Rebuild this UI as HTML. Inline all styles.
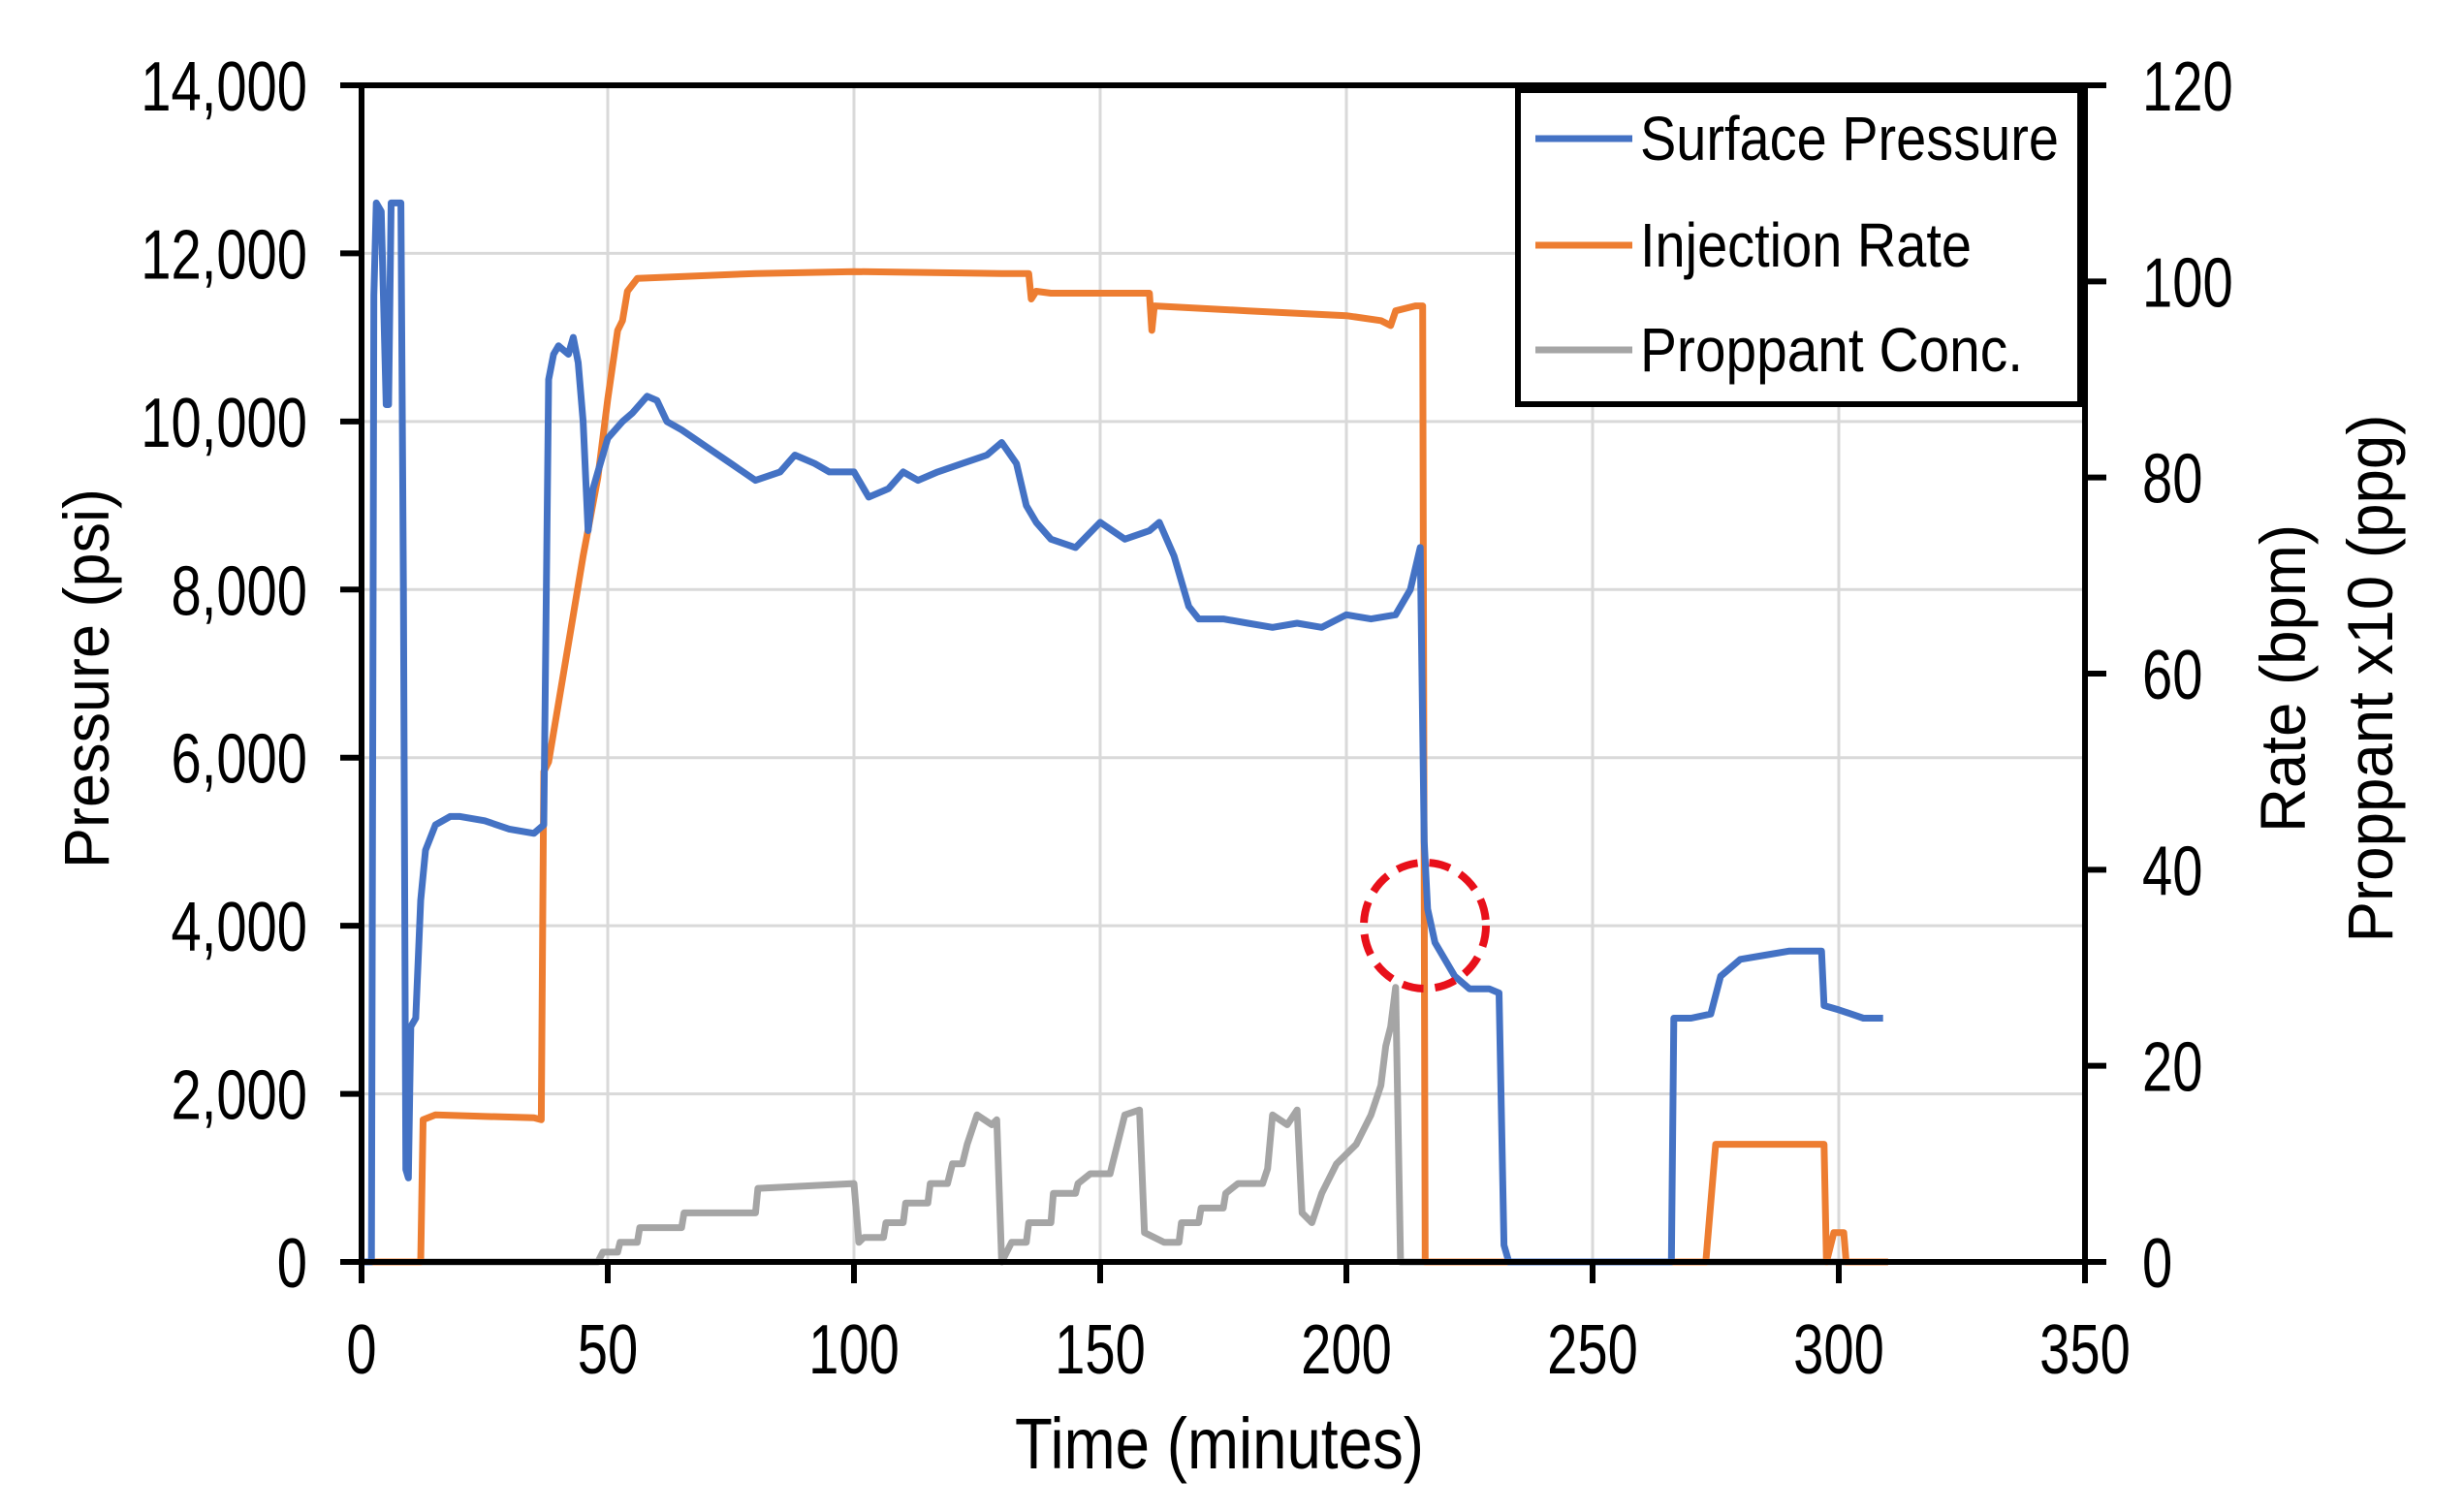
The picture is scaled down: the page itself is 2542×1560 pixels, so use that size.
<!DOCTYPE html>
<html><head><meta charset="utf-8"><style>
html,body{margin:0;padding:0;background:#fff;}
svg{display:block;font-family:"Liberation Sans",Arial,sans-serif;}
</style></head><body>
<svg id="chart" width="2542" height="1560" viewBox="0 0 2542 1560" xmlns="http://www.w3.org/2000/svg">
<g id="grid"></g>
<g id="series"></g>
<g id="axes"></g>
<g id="labels"></g>
<ellipse cx="1470" cy="955" rx="63" ry="65" fill="none" stroke="#e8101a" stroke-width="8" stroke-dasharray="22,12"/>
<g>
<rect x="1566" y="93" width="580" height="324" fill="#fff" stroke="#000" stroke-width="6"/>
<line x1="1584" y1="143" x2="1684" y2="143" stroke="#4472C4" stroke-width="7"/>
<text x="1692" y="165" font-size="64" textLength="432" lengthAdjust="spacingAndGlyphs">Surface Pressure</text>
<line x1="1584" y1="253" x2="1684" y2="253" stroke="#ED7D31" stroke-width="7"/>
<text x="1692" y="275" font-size="64" textLength="342" lengthAdjust="spacingAndGlyphs">Injection Rate</text>
<line x1="1584" y1="361" x2="1684" y2="361" stroke="#A5A5A5" stroke-width="7"/>
<text x="1692" y="383" font-size="64" textLength="395" lengthAdjust="spacingAndGlyphs">Proppant Conc.</text>
</g>
<text x="1258" y="1515" font-size="74" text-anchor="middle" textLength="422" lengthAdjust="spacingAndGlyphs">Time (minutes)</text>
<text transform="translate(112,700) rotate(-90)" font-size="66" text-anchor="middle" textLength="392" lengthAdjust="spacingAndGlyphs">Pressure (psi)</text>
<text transform="translate(2378,700) rotate(-90)" font-size="66" text-anchor="middle" textLength="318" lengthAdjust="spacingAndGlyphs">Rate (bpm)</text>
<text transform="translate(2468,700) rotate(-90)" font-size="66" text-anchor="middle" textLength="545" lengthAdjust="spacingAndGlyphs">Proppant x10 (ppg)</text>
</svg>
<script>
const xTicks=[0,50,100,150,200,250,300,350];
const yLeftTicks=[0,2000,4000,6000,8000,10000,12000,14000];
const yRightTicks=[0,20,40,60,80,100,120];
const pressureT=[0,2,2.5,3,4,5,5.5,6,7,8,8.5,9,9.5,10,11,12,13,15,18,20,25,30,35,37,38,39,40,42,43,44,45,46,47,48,50,53,55,58,60,62,65,70,75,80,85,88,92,95,100,103,107,110,113,117,122,127,130,133,135,137,140,145,150,155,160,162,165,168,170,175,180,185,190,195,200,205,210,213,215,215.8,216.5,218,222,225,229,231,232,233,266,266.5,270,274,276,280,285,290,296,296.5,297,300,305,309];
const pressureV=[0,0,11500,12600,12500,10200,10200,12600,12600,12600,8000,1100,1000,2800,2900,4300,4900,5200,5300,5300,5250,5150,5100,5200,10500,10800,10900,10800,11000,10700,10000,8700,9200,9400,9800,10000,10100,10300,10250,10000,9900,9700,9500,9300,9400,9600,9500,9400,9400,9100,9200,9400,9300,9400,9500,9600,9750,9500,9000,8800,8600,8500,8800,8600,8700,8800,8400,7800,7650,7650,7600,7550,7600,7550,7700,7650,7700,8000,8500,5000,4200,3800,3400,3250,3250,3200,200,0,0,2900,2900,2950,3400,3600,3650,3700,3700,3700,3050,3000,2900,2900];
const rateT=[0,12,12.5,15,35,36.5,37,38,40,42,45,48,50,52,53,54,56,80,100,130,135.5,136,137,140,160,160.5,161,180,200,207,209,210,214,215.5,216,273,275,297,297.5,299,301,301.5,310];
const rateV=[0,0,14.5,15,14.7,14.5,50,51,57,63,72,80,88,95,96,99,100.3,100.8,101,100.8,100.8,98.2,99,98.8,98.8,95,97.5,97,96.5,96,95.5,97,97.5,97.5,0,0,12,12,0,3,3,0,0];
const propT=[0,48,49,52,52.5,56,56.5,65,65.5,80,80.5,100,101,102,106,106.5,110,110.5,115,115.5,119,120,122,123,125,128,129,130,132,135,135.5,140,140.5,145,145.5,148,152,152.5,155,158,159,163,166,166.5,170,170.5,175,175.5,178,183,184,185,188,190,191,193,195,198,202,205,207,208,209,210,211,310];
const propV=[0,0,1,1,2,2,3.5,3.5,5,5,7.5,8,2,2.5,2.5,4,4,6,6,8,8,10,10,12,15,14,14.5,0,2,2,4,4,7,7,8,9,9,10,15,15.5,3,2,2,4,4,5.5,5.5,7,8,8,9.5,15,14,15.5,5,4,7,10,12,15,18,22,24,28,0,0];

const NS='http://www.w3.org/2000/svg';
const X0=373,X1=2151,Y0=1302,Y1=88;
const xs=t=>X0+(t/350)*(X1-X0);
const yl=p=>Y0-(p/14000)*(Y0-Y1);
const yr=v=>Y0-(v/120)*(Y0-Y1);
function mk(tag,attrs,parent){const e=document.createElementNS(NS,tag);for(const k in attrs)e.setAttribute(k,attrs[k]);parent.appendChild(e);return e;}
const grid=document.getElementById('grid'),axes=document.getElementById('axes'),labels=document.getElementById('labels'),series=document.getElementById('series');
xTicks.forEach(t=>{if(t>0&&t<350){const l=mk('line',{x1:xs(t),y1:Y1,x2:xs(t),y2:Y0,stroke:'#d9d9d9','stroke-width':3},grid);

}
const tk=mk('line',{x1:xs(t),y1:Y0,x2:xs(t),y2:Y0+22,stroke:'#000','stroke-width':6},axes);


const tx=mk('text',{transform:`translate(${xs(t)},1417) scale(0.78,1)`,'font-size':72,'text-anchor':'middle'},labels);tx.textContent=t;

});
yLeftTicks.forEach(p=>{if(p>0&&p<14000){const l=mk('line',{x1:X0,y1:yl(p),x2:X1,y2:yl(p),stroke:'#d9d9d9','stroke-width':3},grid);

}
const tk=mk('line',{x1:X0-22,y1:yl(p),x2:X0,y2:yl(p),stroke:'#000','stroke-width':6},axes);


const tx=mk('text',{transform:`translate(317,${yl(p)+26}) scale(0.78,1)`,'font-size':72,'text-anchor':'end'},labels);tx.textContent=p.toLocaleString('en-US');

});
yRightTicks.forEach(v=>{const tk=mk('line',{x1:X1,y1:yr(v),x2:X1+22,y2:yr(v),stroke:'#000','stroke-width':6},axes);


const tx=mk('text',{transform:`translate(2210,${yr(v)+26}) scale(0.78,1)`,'font-size':72,'text-anchor':'start'},labels);tx.textContent=v;

});
function line(T,V,yf,color,name){const d=T.map((t,i)=>(i?'L':'M')+xs(t).toFixed(1)+','+yf(V[i]).toFixed(1)).join(' ');
const p=mk('path',{d:d,fill:'none',stroke:color,'stroke-width':7,'stroke-linejoin':'round'},series);

}
line(propT,propV,yr,'#A5A5A5','proppant-conc-line');
line(rateT,rateV,yr,'#ED7D31','injection-rate-line');
line(pressureT,pressureV,yl,'#4472C4','surface-pressure-line');
const ax=[[X0,Y1,X0,Y0],[X0-3,Y0,X1+3,Y0],[X1,Y1,X1,Y0],[X0-3,Y1,X1+3,Y1]];
ax.forEach(a=>{const l=mk('line',{x1:a[0],y1:a[1],x2:a[2],y2:a[3],stroke:'#000','stroke-width':6},axes);

});
</script>
</body></html>
